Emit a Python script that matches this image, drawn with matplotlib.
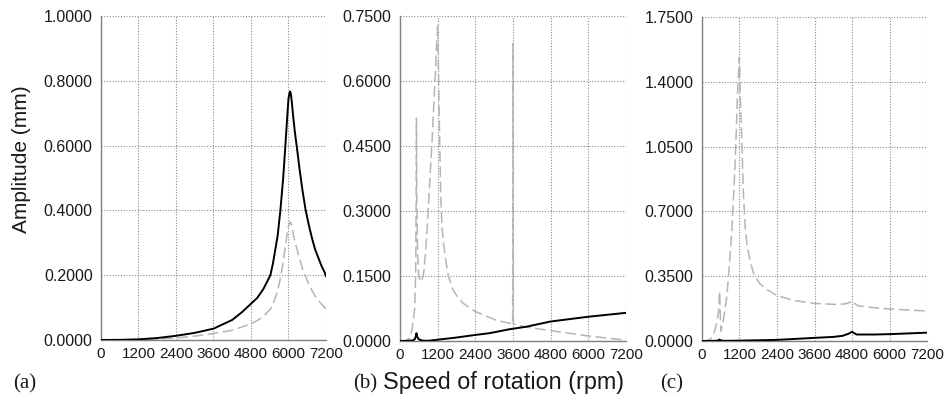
import numpy as np
import matplotlib
matplotlib.use("Agg")
import matplotlib.pyplot as plt
from matplotlib.ticker import FormatStrFormatter

plt.rcParams['font.family'] = ['Liberation Sans', 'DejaVu Sans']

# ---- panel (a) ----
a_rpm = [0, 600, 1200, 1800, 2400, 3000, 3600, 4200, 4500, 4800, 5000, 5200, 5300, 5420,
         5500, 5650, 5740, 5830, 5900, 5960, 6000, 6030, 6050, 6075, 6100, 6150, 6200,
         6260, 6300, 6350, 6450, 6550, 6650, 6750, 6850, 6950, 7050, 7150, 7200]
a_solid = [0, 0.0005, 0.002, 0.006, 0.013, 0.022, 0.035, 0.062, 0.085, 0.112, 0.13, 0.158,
           0.177, 0.2, 0.235, 0.32, 0.4, 0.5, 0.6, 0.69, 0.745, 0.762, 0.767, 0.76, 0.74,
           0.69, 0.645, 0.6, 0.57, 0.53, 0.46, 0.4, 0.355, 0.315, 0.28, 0.255, 0.23, 0.21,
           0.197]
a_dash = [0, 0.0003, 0.001, 0.003, 0.006, 0.012, 0.02, 0.03, 0.04, 0.05, 0.06, 0.073, 0.083,
          0.095, 0.11, 0.15, 0.19, 0.24, 0.29, 0.33, 0.352, 0.362, 0.365, 0.361, 0.352,
          0.328, 0.306, 0.285, 0.27, 0.252, 0.219, 0.195, 0.172, 0.153, 0.136, 0.123,
          0.111, 0.101, 0.095]

# ---- panel (b) ----
b_solid_rpm = [0, 400, 470, 510, 524, 545, 600, 700, 900, 1200, 1800, 2400, 2850, 3480,
               4030, 4800, 6000, 7200]
b_solid = [0, 0.001, 0.004, 0.012, 0.018, 0.01, 0.004, 0.001, 0.0005, 0.003, 0.008, 0.014,
           0.018, 0.027, 0.033, 0.045, 0.056, 0.065]
b_dash_rpm = [0, 200, 300, 380, 470, 500, 515, 524, 535, 560, 600, 650, 700, 760, 820, 880,
              950, 1020, 1080, 1130, 1170, 1200, 1230, 1260, 1300, 1340, 1380, 1450, 1540,
              1690, 1850, 2010, 2400, 3060, 3480, 3590, 3600, 3610, 4030, 4800, 6000, 7200]
b_dash = [0, 0.001, 0.006, 0.025, 0.075, 0.16, 0.32, 0.514, 0.33, 0.2, 0.15, 0.137, 0.14,
          0.16, 0.21, 0.28, 0.37, 0.46, 0.55, 0.62, 0.69, 0.73, 0.6, 0.48, 0.33, 0.26,
          0.23, 0.19, 0.15, 0.118, 0.1, 0.087, 0.068, 0.048, 0.041, 0.04, 0.687, 0.039,
          0.032, 0.024, 0.0115, 0.002]

# ---- panel (c) ----
c_solid_rpm = [0, 450, 530, 560, 600, 700, 1200, 2400, 3600, 4200, 4500, 4700, 4800, 4870,
               4950, 5500, 6000, 6600, 7200]
c_solid = [0, 0.001, 0.004, 0.008, 0.003, 0.001, 0.002, 0.006, 0.017, 0.022, 0.028, 0.04,
           0.05, 0.042, 0.035, 0.035, 0.037, 0.041, 0.045]
c_dash_rpm = [0, 150, 265, 380, 478, 530, 563, 590, 605, 650, 700, 795, 880, 955, 1010,
              1060, 1100, 1133, 1170, 1197, 1230, 1280, 1325, 1381, 1440, 1540, 1643, 1700,
              1850, 2020, 2400, 2970, 3600, 4200, 4570, 4700, 4800, 4870, 4990, 5500, 6000,
              6600, 7200]
c_dash = [0, 0.002, 0.01, 0.04, 0.1, 0.16, 0.268, 0.12, 0.053, 0.08, 0.13, 0.24, 0.42, 0.6,
          0.78, 0.96, 1.15, 1.32, 1.45, 1.533, 1.3, 1.05, 0.8, 0.62, 0.52, 0.43, 0.37, 0.35,
          0.31, 0.285, 0.245, 0.218, 0.203, 0.198, 0.2, 0.207, 0.218, 0.205, 0.19, 0.18,
          0.173, 0.167, 0.162]

x_ticks = [0, 1200, 2400, 3600, 4800, 6000, 7200]

W, H = 945, 398
fig = plt.figure(figsize=(W / 100, H / 100), dpi=100)


def px_axes(left, right, top, bottom):
    return fig.add_axes([left / W, 1 - bottom / H, (right - left) / W, (bottom - top) / H])


panels = [
    ((101, 326, 16, 340), a_rpm, a_solid, a_rpm, a_dash, 1.0, 0.2),
    ((400, 626, 16, 341), b_solid_rpm, b_solid, b_dash_rpm, b_dash, 0.75, 0.15),
    ((702, 927, 17, 341), c_solid_rpm, c_solid, c_dash_rpm, c_dash, 1.75, 0.35),
]

for box, srpm, sval, drpm, dval, ymax, ystep in panels:
    ax = px_axes(*box)
    ax.plot(drpm, dval, color="#b5b5b5", lw=1.1, dashes=(7, 3), zorder=3)
    ax.plot(srpm, sval, color="black", lw=1.4, zorder=4)
    ax.set_xlim(0, 7200)
    ax.set_ylim(0, ymax)
    ax.set_xticks(x_ticks)
    ax.set_yticks(np.round(np.arange(0, ymax + ystep / 2, ystep), 4))
    ax.yaxis.set_major_formatter(FormatStrFormatter("%.4f"))
    ax.grid(True, color="#8a8a8a", lw=0.8, linestyle=(0, (1, 1.5)))
    ax.set_axisbelow(True)
    for s in ("top", "right"):
        ax.spines[s].set_visible(False)
    for s in ("left", "bottom"):
        ax.spines[s].set_color("#808080")
        ax.spines[s].set_linewidth(1.0)
    ax.tick_params(length=0, colors="#1a1a1a")
    ax.tick_params(axis="y", pad=6, labelsize=11.5)
    ax.tick_params(axis="x", pad=5, labelsize=11)

fig.text(22 / W, 1 - 159 / H, "Amplitude (mm)", rotation=90, fontsize=15,
         ha="center", va="center", color="#1a1a1a")
fig.text(504 / W, 1 - 382 / H, "Speed of rotation (rpm)", fontsize=16.8,
         ha="center", va="center", color="#1a1a1a")
for lab, xc in (("(a)", 25), ("(b)", 365), ("(c)", 672)):
    fig.text(xc / W, 1 - 384 / H, lab, fontsize=15, family="Liberation Serif",
             ha="center", va="center", color="#1a1a1a")

fig.savefig("out.png", dpi=100)
